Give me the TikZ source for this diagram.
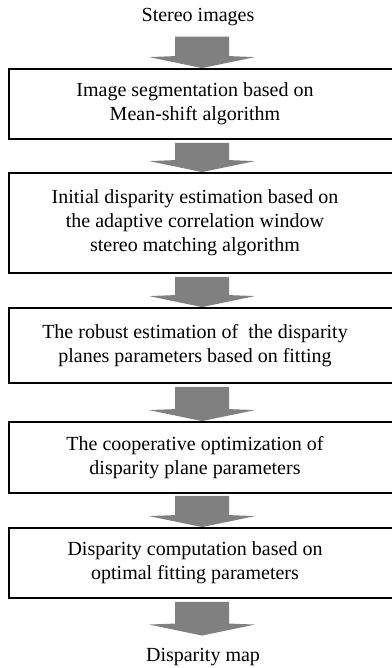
\documentclass[tikz,border=0pt]{standalone}
\usepackage{fontspec}
\setmainfont{Liberation Serif}
\usetikzlibrary{calc}
\newcommand\boxtext[1]{\kern-14pt\begin{tabular}{@{}c@{}}#1\end{tabular}}
\tikzset{
  stepbox/.style={draw=black, line width=1.8pt, minimum width=386pt, inner sep=0pt, font=\fontsize{20}{24}\selectfont},
  plaintext/.style={inner sep=0pt, align=center, font=\fontsize{20}{24}\selectfont},
  garrow/.style={fill=black!50, draw=none}
}
% #1 from node anchor, #2 to node anchor, #3 top gap, #4 tip gap
\newcommand\fatarrow[4]{%
  \fill[garrow] let \p1=(#1), \p2=(#2) in
    (202pt-27pt,\y1-#3) -- (202pt-27pt,\y2+#4+12pt) -- (202pt-53pt,\y2+#4+11pt) --
    (202pt,\y2+#4) -- (202pt+53pt,\y2+#4+11pt) -- (202pt+27pt,\y2+#4+12pt) --
    (202pt+27pt,\y1-#3) -- cycle;}
\begin{document}
\begin{tikzpicture}[x=1pt,y=1pt]
\useasboundingbox (0,0) rectangle (391,668);
\node[plaintext, anchor=base] (in) at (198,646) {Stereo images};
\node[stepbox, minimum height=70pt] (b1) at (202,564) {\boxtext{Image segmentation based on\\Mean-shift algorithm}};
\node[stepbox, minimum height=100pt] (b2) at (202,445) {\boxtext{Initial disparity estimation based on\\the adaptive correlation window\\stereo matching algorithm}};
\node[stepbox, minimum height=75pt] (b3) at (202,322.5) {\boxtext{The robust estimation of ~the disparity\\planes parameters based on fitting}};
\node[stepbox, minimum height=71pt] (b4) at (202,210.5) {\boxtext{The cooperative optimization of\\disparity plane parameters}};
\node[stepbox, minimum height=70pt] (b5) at (202,105) {\boxtext{Disparity computation based on\\optimal fitting parameters}};
\node[plaintext, anchor=base] (out) at (203,6) {Disparity map};
\fatarrow{in.south}{b1.north}{10pt}{0pt}
\fatarrow{b1.south}{b2.north}{3pt}{0pt}
\fatarrow{b2.south}{b3.north}{3pt}{0pt}
\fatarrow{b3.south}{b4.north}{3pt}{0pt}
\fatarrow{b4.south}{b5.north}{2pt}{0pt}
\fatarrow{b5.south}{out.north}{3pt}{13pt}
\end{tikzpicture}
\end{document}
